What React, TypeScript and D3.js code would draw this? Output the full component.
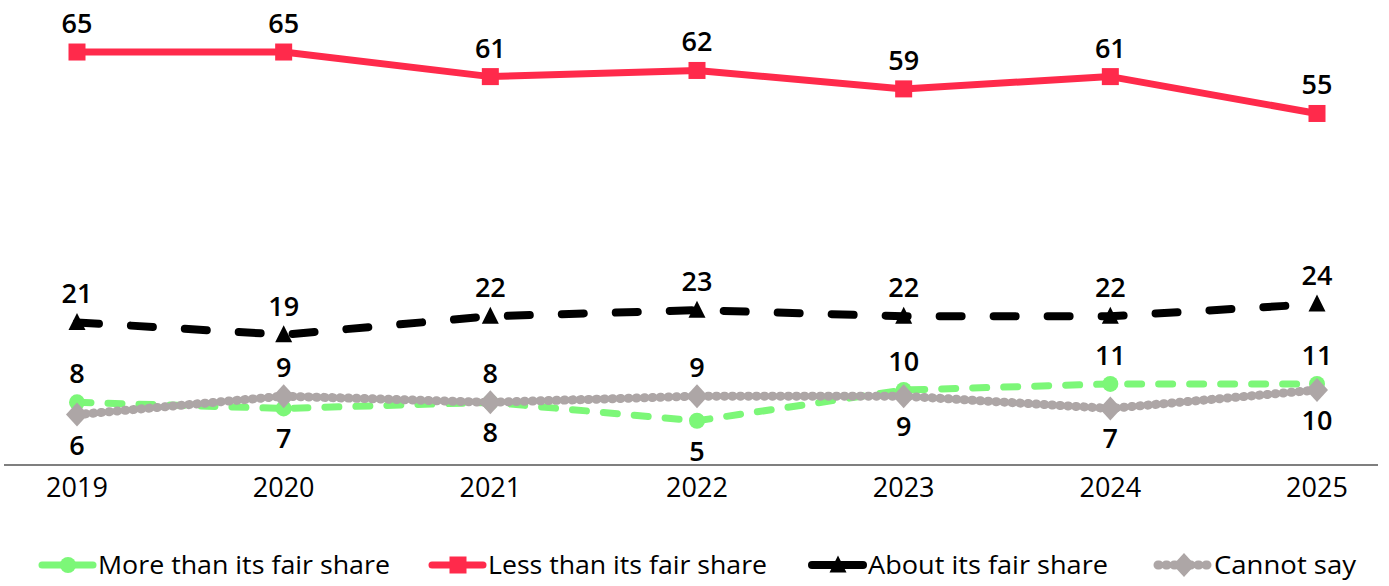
import React from "react";
import * as d3 from "d3";

const years = ["2019", "2020", "2021", "2022", "2023", "2024", "2025"];
const moreThan = [8, 7, 8, 5, 10, 11, 11];
const lessThan = [65, 65, 61, 62, 59, 61, 55];
const aboutFair = [21, 19, 22, 23, 22, 22, 24];
const cannotSay = [6, 9, 8, 9, 9, 7, 10];
// label placement: true = above the point
const moreAbove = [true, false, true, false, true, true, true];
const cannotAbove = [false, true, false, true, false, false, false];

const W = 1389;
const H = 586;
const FONT = "'Open Sans', 'DejaVu Sans', sans-serif";

const x = d3.scalePoint<string>().domain(years).range([77, 1317]);
const y = d3.scaleLinear().domain([-2.2, 72]).range([465, 9]);

type Series = {
  name: string;
  values: number[];
  color: string;
  width: number;
  dash?: string;
  marker: "circle" | "square" | "triangle" | "diamond";
  above: boolean[];
};

const series: Series[] = [
  { name: "About its fair share", values: aboutFair, color: "#000000", width: 8, dash: "22 32", marker: "triangle", above: years.map(() => true) },
  { name: "More than its fair share", values: moreThan, color: "#7CF778", width: 7, dash: "14 17", marker: "circle", above: moreAbove },
  { name: "Cannot say", values: cannotSay, color: "#ADA6A6", width: 9, dash: "1 7", marker: "diamond", above: cannotAbove },
  { name: "Less than its fair share", values: lessThan, color: "#FF2A4B", width: 7, marker: "square", above: years.map(() => true) },
];

const legendOrder = ["More than its fair share", "Less than its fair share", "About its fair share", "Cannot say"];
const legendX = [42, 432, 812, 1158];
const legendTextW = [292, 279, 240, 142];

function Marker({ kind, cx, cy, color }: { kind: string; cx: number; cy: number; color: string }) {
  if (kind === "circle") return <circle cx={cx} cy={cy} r={8} fill={color} />;
  if (kind === "square") return <rect x={cx - 8.5} y={cy - 8.5} width={17} height={17} fill={color} />;
  if (kind === "triangle") {
    const s = 17;
    return <path d={`M${cx},${cy - s / 2 - 1}L${cx + s / 2},${cy + s / 2 - 1}L${cx - s / 2},${cy + s / 2 - 1}Z`} fill={color} />;
  }
  return <path d={`M${cx},${cy - 12}L${cx + 11},${cy}L${cx},${cy + 12}L${cx - 11},${cy}Z`} fill={color} />;
}

export default function App() {
  const line = d3
    .line<number>()
    .x((_, i) => x(years[i]) as number)
    .y((d) => y(d));

  return (
    <svg width={W} height={H} style={{ position: "absolute", left: 0, top: 0, background: "#fff" }}>
      <line x1={4} x2={1378} y1={465} y2={465} stroke="#7f7f7f" strokeWidth={2} />
      {years.map((yr) => (
        <text key={yr} x={x(yr)} y={497} textAnchor="middle" fontFamily={FONT} fontSize={27} fill="#000">
          {yr}
        </text>
      ))}

      {series.map((s) => (
        <g key={s.name}>
          <path
            d={line(s.values) || ""}
            fill="none"
            stroke={s.color}
            strokeWidth={s.width}
            strokeDasharray={s.dash}
            strokeLinecap={s.dash ? "round" : "butt"}
            strokeLinejoin="round"
          />
          {s.values.map((v, i) => (
            <Marker key={i} kind={s.marker} cx={x(years[i]) as number} cy={y(v)} color={s.color} />
          ))}
        </g>
      ))}

      {series.map((s) =>
        s.values.map((v, i) => (
          <text
            key={s.name + i}
            x={x(years[i])}
            y={s.above[i] ? y(v) - 19 : y(v) + 40}
            textAnchor="middle"
            fontFamily={FONT}
            fontWeight={600}
            fontSize={27}
            fill="#000"
          >
            {v}
          </text>
        ))
      )}

      {legendOrder.map((name, i) => {
        const s = series.find((d) => d.name === name)!;
        const lx = legendX[i];
        return (
          <g key={name}>
            <line
              x1={lx}
              x2={lx + 51}
              y1={565}
              y2={565}
              stroke={s.color}
              strokeWidth={s.width}
              strokeDasharray={s.marker === "diamond" ? "1 7" : undefined}
              strokeLinecap="round"
            />
            <Marker kind={s.marker} cx={lx + 26} cy={565} color={s.color} />
            <text
              x={lx + 56}
              y={574}
              fontFamily={FONT}
              fontSize={26}
              fill="#000"
              textLength={legendTextW[i]}
              lengthAdjust="spacingAndGlyphs"
            >
              {name}
            </text>
          </g>
        );
      })}
    </svg>
  );
}
